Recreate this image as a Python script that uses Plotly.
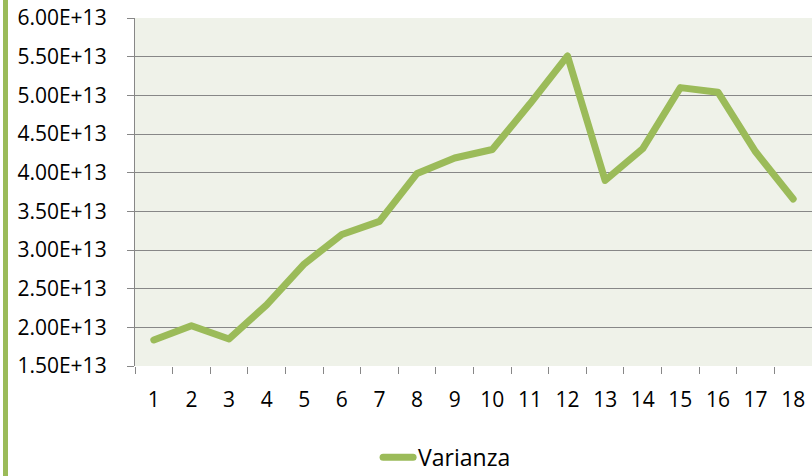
import plotly.graph_objects as go

categories = [str(i) for i in range(1, 19)]
varianza = [1.837e13, 2.02e13, 1.85e13, 2.29e13, 2.82e13, 3.20e13, 3.37e13, 3.99e13, 4.19e13,
            4.30e13, 4.89e13, 5.51e13, 3.90e13, 4.31e13, 5.10e13, 5.04e13, 4.27e13, 3.66e13]
y_tickvals = [1.5e13, 2.0e13, 2.5e13, 3.0e13, 3.5e13, 4.0e13, 4.5e13, 5.0e13, 5.5e13, 6.0e13]
y_ticktext = ["1.50E+13", "2.00E+13", "2.50E+13", "3.00E+13", "3.50E+13",
              "4.00E+13", "4.50E+13", "5.00E+13", "5.50E+13", "6.00E+13"]

GREEN = "#9BBB59"
GRID = "#878787"
FONT = "Open Sans"

fig = go.Figure()
fig.add_trace(go.Scatter(
    x=categories, y=varianza, mode="lines", name="Varianza",
    line=dict(color=GREEN, width=7),
))

fig.update_layout(
    width=812, height=476,
    margin=dict(l=135, r=0, t=18, b=110, autoexpand=False),
    paper_bgcolor="white",
    plot_bgcolor="#EFF2E9",
    font=dict(family=FONT, size=21, color="black"),
    showlegend=True,
    legend=dict(orientation="h", x=0.461, xanchor="center", y=-0.262, yanchor="middle",
                font=dict(family=FONT, size=23, color="black"), bgcolor="rgba(0,0,0,0)"),
    xaxis=dict(
        type="category", showgrid=False, showline=False, zeroline=False, automargin=False,
        ticks="outside", tickson="boundaries", ticklen=7, tickwidth=1.3, tickcolor=GRID,
        ticklabelstandoff=19, range=[-0.5, 17.5],
    ),
    yaxis=dict(
        range=[1.5e13, 6.0e13], tickvals=y_tickvals, ticktext=y_ticktext, automargin=False,
        showgrid=True, gridcolor=GRID, gridwidth=1.3,
        showline=True, linecolor=GRID, linewidth=1.3, zeroline=False,
        ticks="outside", ticklen=7, tickwidth=1.3, tickcolor=GRID,
        ticklabelstandoff=16,
    ),
    shapes=[dict(type="rect", xref="paper", yref="paper",
                 x0=-132 / 677, x1=-127 / 677, y0=-110 / 348, y1=1 + 18 / 348,
                 fillcolor=GREEN, line=dict(width=0), layer="above")],
)

post = (
    "document.body.style.margin='0';document.body.style.overflow='hidden';"
    "var st=document.createElement('style');"
    "st.textContent='.scatterlayer .js-line{stroke-linejoin:round;stroke-linecap:round}"
    " .legendlines path{stroke-linecap:round}';"
    "document.head.appendChild(st);"
)

fig.write_html("out.html", config={"displayModeBar": False}, post_script=post)
